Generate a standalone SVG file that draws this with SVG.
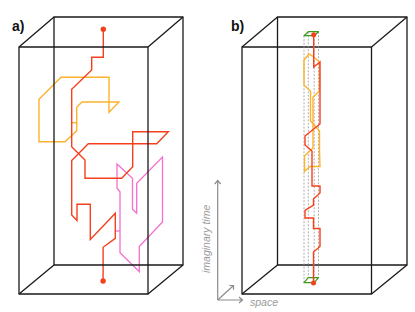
<svg xmlns="http://www.w3.org/2000/svg" width="415" height="312" viewBox="0 0 415 312">
<style>
.box{fill:none;stroke:#1a1a1a;stroke-width:1.3;stroke-linejoin:round}
.red{fill:none;stroke:#f5401e;stroke-width:1.4;stroke-linejoin:miter}
.org{fill:none;stroke:#fdb22b;stroke-width:1.4}
.pnk{fill:none;stroke:#f46fcf;stroke-width:1.3}
.dot{fill:#f5401e}
.dash{fill:none;stroke:#9a9a9a;stroke-width:0.8;stroke-dasharray:2 1.5}
.grn{fill:none;stroke:#3a9b1c;stroke-width:1.2;stroke-linejoin:round}
.ax{fill:none;stroke:#8c8c8c;stroke-width:1.2}
.lbl{font-family:"Liberation Sans",Arial,sans-serif;font-weight:bold;font-size:14px;fill:#111}
.axl{font-family:"Liberation Sans",Arial,sans-serif;font-style:italic;font-size:10.5px;fill:#9a9a9a}
</style>
<g id="panel-a">
  <text class="lbl" x="12" y="31">a)</text>
  <g id="a-orange-loop">
    <polygon class="org" points="108.5,77.3 61,77.3 39,99.3 39,141.7 65,141.7 76.7,130.7 76.7,107.3 82,102 119,102 109,112.3 109,77.3"/>
    <line class="org" x1="71.7" y1="122.7" x2="76.7" y2="122.7"/>
  </g>
  <g id="a-pink-loop">
    <polygon class="pnk" points="117,164 132.5,178.3 132.5,209.3 136.7,213.3 136.7,183.3 162.5,157 162.5,222 139.3,246.5 139.3,271.7 120,252.7 120,191.7 117,188.3"/>
    <line class="pnk" x1="115.7" y1="231" x2="120" y2="231"/>
  </g>
  <g id="a-red-path">
    <polyline class="red" points="103.3,29.3 103.3,57.3 91.7,57.3 91.7,70 71.7,89.3 71.7,146.7 85,160 85,178.3 121.7,178.3 132.7,166.7 132.7,131.7 168.3,131.7 156.7,143.7 88.3,143.7 71.7,160.5 71.7,215 77,220.5 77,204.3 90.3,204.3 90.3,239.5 115.3,213.3 115.3,238.3 103.1,247.3 103.1,281"/>
    <circle class="dot" cx="103.3" cy="29.3" r="2.7"/>
    <circle class="dot" cx="103.1" cy="281" r="2.7"/>
  </g>
  <g id="a-box">
    <rect class="box" x="54" y="17" width="129" height="248"/>
    <rect class="box" x="19" y="47" width="129" height="247"/>
    <path class="box" d="M19,47 L54,17 M148,47 L183,17 M148,294 L183,265 M19,294 L54,265"/>
  </g>
</g>
<g id="panel-b">
  <text class="lbl" x="231" y="31">b)</text>
  <g id="b-box">
    <rect class="box" x="277.5" y="17" width="129.5" height="248"/>
    <rect class="box" x="242" y="47" width="129.5" height="247"/>
    <path class="box" d="M242,47 L277.5,17 M371.5,47 L407,17 M371.5,294 L407,265 M242,294 L277.5,265"/>
  </g>
  <g id="b-prism">
    <line class="dash" x1="304" y1="35.7" x2="304" y2="282.7"/>
    <line class="dash" x1="308.3" y1="31.7" x2="308.3" y2="277.7"/>
    <line class="dash" x1="314.2" y1="35.7" x2="314.2" y2="282.7"/>
    <line class="dash" x1="318.5" y1="31.7" x2="318.5" y2="277.7"/>
    <polygon class="grn" points="304,35.7 308.3,31.7 318.5,31.7 314.2,35.7"/>
    <polygon class="grn" points="304,282.7 308.3,277.7 318.5,277.7 314.2,282.7"/>
  </g>
  <g id="b-orange-loop">
    <polygon class="org" points="309,54 304,60 304,85 310.5,91 310.5,121 319.5,131 319.5,150 320,166.5 310,166.5 304.5,171.5 304.5,156 313,148 313,97 319.5,91 319.5,62 313.7,57"/>
  </g>
  <g id="b-red-path">
    <polyline class="red" points="313.7,35 313.7,67 320,62 320,124 305,136 305,145 312,151 312,186 320,186 320,193 313.5,199 313.5,205 305,210.5 305,218 313.5,218 313.5,228.5 320,228.5 320,246.5 313.5,252 313.5,283"/>
    <circle class="dot" cx="313.7" cy="34.8" r="2.5"/>
    <circle class="dot" cx="313.5" cy="283" r="2.5"/>
  </g>
  <g id="b-axes">
    <path class="ax" d="M217.7,300 V180.5 M214.7,184 L217.7,180.5 L220.7,184"/>
    <path class="ax" d="M217.7,300 H242.5 M239,297 L242.5,300 L239,303"/>
    <path class="ax" d="M217.7,300 L233.5,285.5 M229.2,285.5 L233.5,285.5 L233.5,289.8"/>
    <text class="axl" x="250" y="305.5">space</text>
    <text class="axl" transform="translate(209.5,273) rotate(-90)">imaginary time</text>
  </g>
</g>
</svg>
